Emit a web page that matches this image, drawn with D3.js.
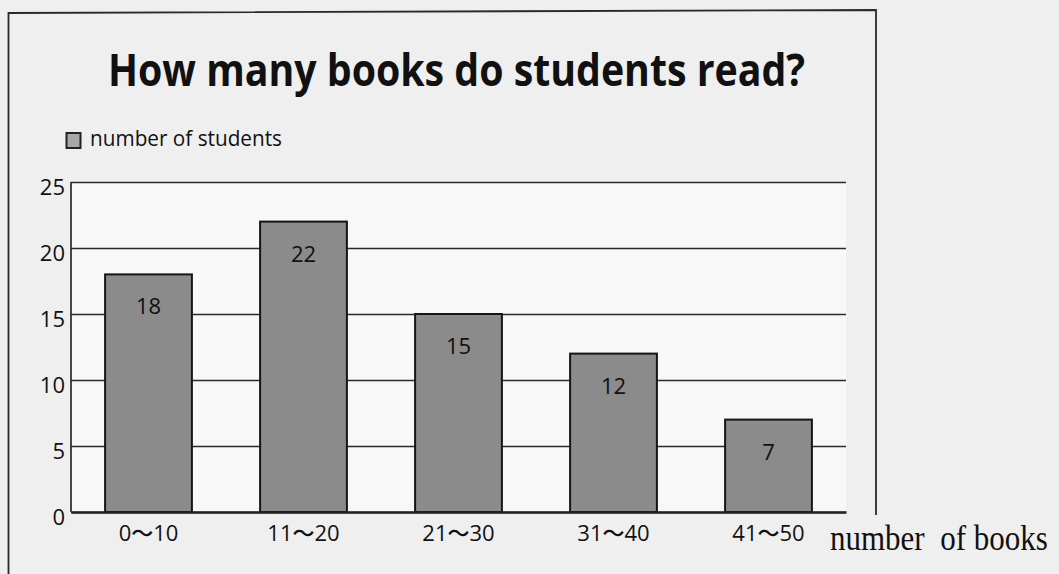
<!DOCTYPE html>
<html>
<head>
<meta charset="utf-8">
<script src="https://cdn.jsdelivr.net/npm/d3@7"></script>
<style>
  html, body { margin: 0; padding: 0; background: #efefef; }
  svg { display: block; }
</style>
</head>
<body>
<svg id="chart" width="1059" height="574"></svg>
<script>
// chart data
const categories = ['0～10', '11～20', '21～30', '31～40', '41～50'];
const students = [18, 22, 15, 12, 7];
const yTicks = [0, 5, 10, 15, 20, 25];
const titleText = 'How many books do students read?';
const legendText = 'number of students';
const xAxisTitle = 'number  of books';

document.addEventListener('DOMContentLoaded', function () {
    const svg = d3.select('#chart');
    const plot = { left: 71, right: 846, top: 182, bottom: 512 };
    const sans = "'Open Sans', 'Noto Sans', sans-serif";

    const x = d3.scaleBand()
        .domain(categories)
        .range([plot.left, plot.right])
        .paddingInner(0.44)
        .paddingOuter(0.22);

    const y = d3.scaleLinear()
        .domain([0, 25])
        .range([plot.bottom, plot.top]);

    // scanned page frame
    svg.append('path')
        .attr('d', 'M8.5,574 V13 L876,10 V515')
        .attr('fill', 'none')
        .attr('stroke', '#2a2a2a')
        .attr('stroke-width', 1.8);

    // plot background
    svg.append('rect')
        .attr('x', plot.left)
        .attr('y', plot.top)
        .attr('width', plot.right - plot.left)
        .attr('height', plot.bottom - plot.top)
        .attr('fill', '#f8f8f8');

    // title
    svg.append('text')
        .attr('x', 108)
        .attr('y', 86)
        .attr('font-family', sans)
        .attr('font-weight', 700)
        .attr('font-size', 45)
        .attr('textLength', 697)
        .attr('lengthAdjust', 'spacingAndGlyphs')
        .attr('fill', '#111')
        .text(titleText);

    // legend
    svg.append('rect')
        .attr('x', 66.5)
        .attr('y', 133)
        .attr('width', 14)
        .attr('height', 15)
        .attr('fill', '#a8a8a8')
        .attr('stroke', '#222')
        .attr('stroke-width', 2);

    svg.append('text')
        .attr('x', 90)
        .attr('y', 146)
        .attr('font-family', sans)
        .attr('font-weight', 500)
        .attr('font-size', 21)
        .attr('textLength', 192)
        .attr('lengthAdjust', 'spacingAndGlyphs')
        .attr('fill', '#111')
        .text(legendText);

    // y axis with gridlines
    const yAxis = d3.axisLeft(y)
        .tickValues(yTicks)
        .tickSize(-(plot.right - plot.left))
        .tickPadding(6);

    const yg = svg.append('g')
        .attr('transform', `translate(${plot.left},0)`)
        .call(yAxis);

    yg.select('.domain').remove();
    yg.selectAll('.tick line')
        .attr('stroke', '#2a2a2a')
        .attr('stroke-width', 1.7);
    yg.selectAll('.tick text')
        .attr('font-family', sans)
        .attr('font-weight', 500)
        .attr('font-size', 22)
        .attr('fill', '#111')
        .attr('dy', '0.55em');

    // bars
    svg.append('g')
        .selectAll('rect')
        .data(students)
        .enter()
        .append('rect')
        .attr('x', (d, i) => x(categories[i]))
        .attr('y', d => y(d))
        .attr('width', x.bandwidth())
        .attr('height', d => y(0) - y(d))
        .attr('fill', '#8b8b8b')
        .attr('stroke', '#151515')
        .attr('stroke-width', 2);

    // value labels
    svg.append('g')
        .selectAll('text')
        .data(students)
        .enter()
        .append('text')
        .attr('x', (d, i) => x(categories[i]) + x.bandwidth() / 2)
        .attr('y', d => y(d) + 40)
        .attr('text-anchor', 'middle')
        .attr('font-family', sans)
        .attr('font-weight', 500)
        .attr('font-size', 22)
        .attr('fill', '#111')
        .text(d => d);

    // y axis line and baseline
    svg.append('line')
        .attr('x1', plot.left).attr('x2', plot.left)
        .attr('y1', plot.top).attr('y2', plot.bottom)
        .attr('stroke', '#2a2a2a')
        .attr('stroke-width', 1.7);

    const xAxis = d3.axisBottom(x)
        .tickSize(0)
        .tickPadding(10);

    const xg = svg.append('g')
        .attr('transform', `translate(0,${plot.bottom})`)
        .call(xAxis);

    xg.select('.domain')
        .attr('stroke', '#222')
        .attr('stroke-width', 2.4);
    xg.selectAll('.tick text')
        .attr('font-family', "'Open Sans', 'Noto Sans CJK JP', sans-serif")
        .attr('font-weight', 500)
        .attr('font-size', 22)
        .attr('fill', '#111')
        .attr('dy', '0.85em');

    // x axis title (serif, as printed; the scan is a little stretched vertically)
    svg.append('text')
        .attr('transform', 'translate(830,550) scale(1,1.15)')
        .attr('font-family', "'Liberation Serif', 'DejaVu Serif', serif")
        .attr('font-size', 31)
        .attr('xml:space', 'preserve')
        .attr('fill', '#111')
        .text(xAxisTitle);
});
</script>
</body>
</html>
